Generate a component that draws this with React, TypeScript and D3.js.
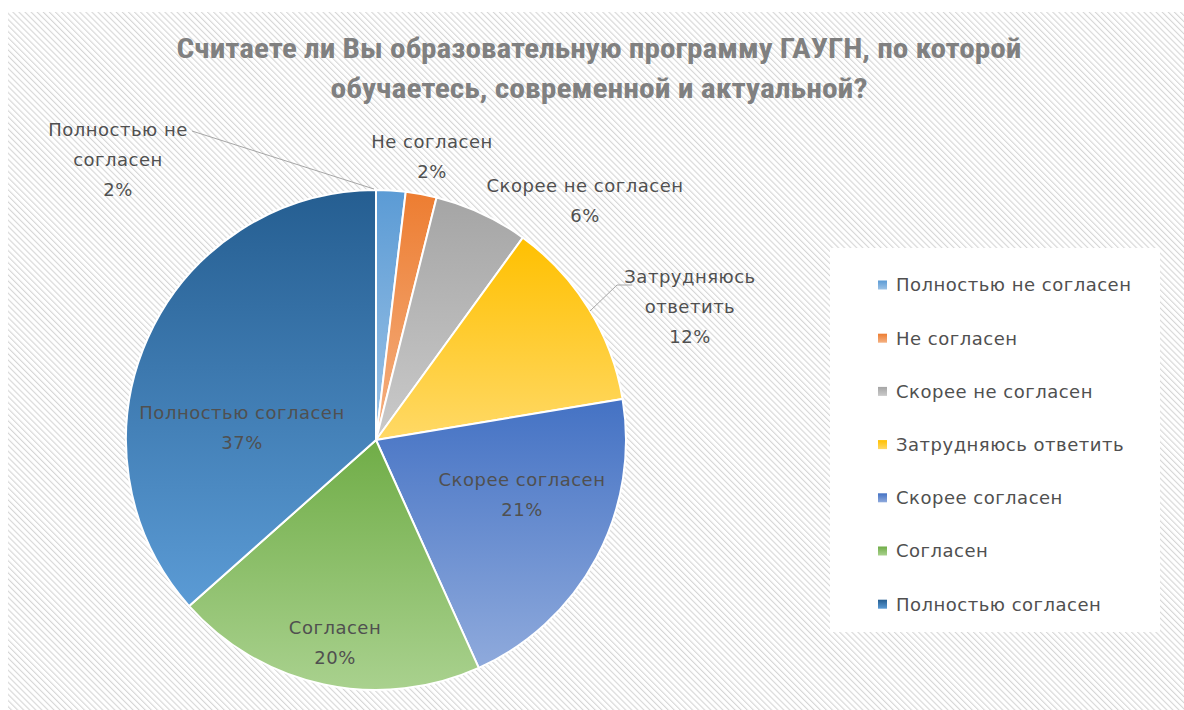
import React from "react";
import * as d3 from "d3";

// survey answers, in the order Excel draws them (clockwise from 12 o'clock)
const categories = [
  "Полностью не согласен",
  "Не согласен",
  "Скорее не согласен",
  "Затрудняюсь ответить",
  "Скорее согласен",
  "Согласен",
  "Полностью согласен",
];
const shares = [1.9, 2.0, 6.1, 12.4, 20.9, 20.2, 36.6];
const colorsTop = ["#5B9BD5", "#ED7D31", "#A5A5A5", "#FFC000", "#4472C4", "#70AD47", "#255E91"];
const colorsBottom = ["#9DC3E6", "#F4B183", "#CACACA", "#FFD966", "#8FAADC", "#A9D18E", "#5B9BD5"];
// label text split into lines like in the original
const labelLines = [
  ["Полностью не", "согласен"],
  ["Не согласен"],
  ["Скорее не согласен"],
  ["Затрудняюсь", "ответить"],
  ["Скорее согласен"],
  ["Согласен"],
  ["Полностью согласен"],
];
const titleLines = [
  "Считаете ли Вы образовательную программу ГАУГН, по которой",
  "обучаетесь, современной и актуальной?",
];

const W = 1184;
const H = 710;
const cx = 376;
const cy = 440;
const radius = 250;
// label block centres, relative to pie centre
const labelSpots: [number, number][] = [
  [-258, -280],
  [56, -283],
  [209, -239],
  [314, -133],
  [146, 55],
  [-41, 203],
  [-134, -12],
];

export default function App() {
  const total = d3.sum(shares);
  const pie = d3.pie<number>().sort(null).value((d) => d);
  const arcs = pie(shares);
  const arc = d3.arc<d3.PieArcDatum<number>>().innerRadius(0).outerRadius(radius);
  const lineH = 30;
  const font = "'DejaVu Sans', 'Noto Sans', sans-serif";
  const fs = 18;
  const ls = 0.5;

  return (
    <svg width={W} height={H} style={{ position: "absolute", left: 0, top: 0 }}>
      <defs>
        <pattern id="hatch" width={4.3} height={4.3} patternUnits="userSpaceOnUse" patternTransform="rotate(-45)">
          <rect width={4.3} height={4.3} fill="#ffffff" />
          <line x1={0} y1={0} x2={0} y2={4.3} stroke="#d6d6d6" strokeWidth={2.2} />
        </pattern>
        {colorsTop.map((c, i) => (
          <linearGradient key={i} id={"g" + i} x1="0" y1="0" x2="0" y2="1">
            <stop offset="0%" stopColor={c} />
            <stop offset="100%" stopColor={colorsBottom[i]} />
          </linearGradient>
        ))}
      </defs>
      <rect x={0} y={0} width={W} height={H} fill="#ffffff" />
      <rect x={8} y={12} width={W - 8} height={H - 12} fill="url(#hatch)" />

      {titleLines.map((t, i) => (
        <text
          key={i}
          x={599}
          y={58 + i * 40}
          textAnchor="middle"
          fill="#808080"
          fontFamily="'Liberation Sans Narrow', 'Roboto Condensed', 'Liberation Sans', sans-serif"
          fontWeight="bold"
          fontSize={27}
          textLength={i === 0 ? 845 : 537}
          lengthAdjust="spacingAndGlyphs"
        >
          {t}
        </text>
      ))}

      <g transform={`translate(${cx},${cy})`}>
        {arcs.map((a, i) => (
          <path key={i} d={arc(a) || ""} fill={`url(#g${i})`} stroke="#ffffff" strokeWidth={2} />
        ))}
        {/* leader lines */}
        <polyline points={`-184,-309 -2,-251`} fill="none" stroke="#a6a6a6" strokeWidth={1} />
        <polyline points={`214,-129 241,-155 256,-155`} fill="none" stroke="#a6a6a6" strokeWidth={1} />
        {arcs.map((a, i) => {
          const [lx, ly] = labelSpots[i];
          const lines = [...labelLines[i], Math.round((a.data / total) * 100) + "%"];
          const y0 = ly - ((lines.length - 1) * lineH) / 2;
          return (
            <text key={i} textAnchor="middle" fill="#505050" fontFamily={font} fontSize={fs} letterSpacing={ls}>
              {lines.map((s, j) => (
                <tspan key={j} x={lx} y={y0 + j * lineH} dy="0.35em">
                  {s}
                </tspan>
              ))}
            </text>
          );
        })}
      </g>

      <g>
        <rect x={830} y={248} width={330} height={384} fill="#ffffff" />
        {categories.map((c, i) => (
          <g key={i} transform={`translate(878,${285 + i * 53.2})`}>
            <rect x={0} y={-4.5} width={9} height={9} fill={`url(#g${i})`} />
            <text x={18} dy="0.35em" fill="#505050" fontFamily={font} fontSize={fs} letterSpacing={ls}>
              {c}
            </text>
          </g>
        ))}
      </g>
    </svg>
  );
}
